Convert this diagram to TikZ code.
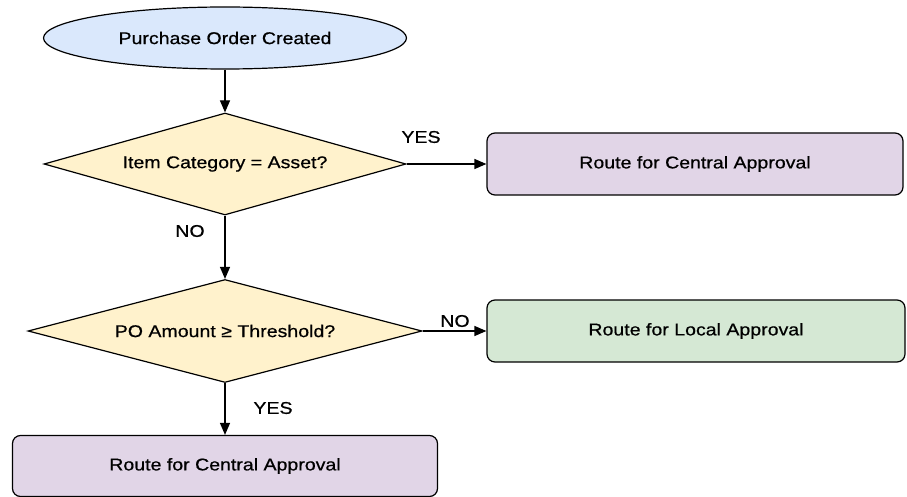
\documentclass[tikz,border=0pt]{standalone}
\usepackage{fontspec}
\setmainfont[FakeStretch=1.15,FakeBold=0.6]{Liberation Sans}
\usetikzlibrary{shapes.geometric,arrows.meta}
\definecolor{startblue}{HTML}{DAE8FC}
\definecolor{checkyellow}{HTML}{FFF2CC}
\definecolor{centralpurple}{HTML}{E1D5E7}
\definecolor{localgreen}{HTML}{D5E8D4}

\begin{document}
\begin{tikzpicture}[x=1pt,y=-1pt,
  every node/.style={font=\fontsize{17}{20}\selectfont},
  start/.style={ellipse,draw,line width=1.2pt,fill=startblue,minimum width=363pt,minimum height=62pt,inner sep=0pt},
  check/.style={diamond,draw,line width=1.2pt,fill=checkyellow,minimum height=102pt,inner sep=0pt},
  route/.style={rectangle,draw,line width=1.2pt,rounded corners=8pt,minimum height=62pt,inner sep=0pt},
  flow/.style={-{Triangle[length=12pt,width=10pt]},line width=1.2pt}]
\useasboundingbox (0,0) rectangle (907,497);
\node [start] (po) at (225,38) {Purchase Order Created};
\node [check,aspect=3.55,minimum width=362pt] (asset) at (225,164) {Item Category = Asset?};
\node [check,aspect=3.83,minimum width=394pt,minimum height=103pt] (amount) at (225,331) {PO Amount ≥ Threshold?};
\node [route,fill=centralpurple,minimum width=416pt] (central1) at (695,164) {Route for Central Approval};
\node [route,fill=localgreen,minimum width=418pt] (local) at (696,331) {Route for Local Approval};
\node [route,fill=centralpurple,minimum width=425pt,minimum height=61pt] (central2) at (225,466) {Route for Central Approval};
% connectors
\draw [flow] (po) -- (asset);
\draw [flow] (asset) -- (central1);
\draw [flow] (asset) -- (amount);
\draw [flow] (amount) -- (local);
\draw [flow] (amount) -- (central2);
% answers
\node (yes1) at (421,137) {YES};
\node (no1) at (190,231) {NO};
\node (no2) at (455,321) {NO};
\node (yes2) at (273,408) {YES};
\end{tikzpicture}
\end{document}
